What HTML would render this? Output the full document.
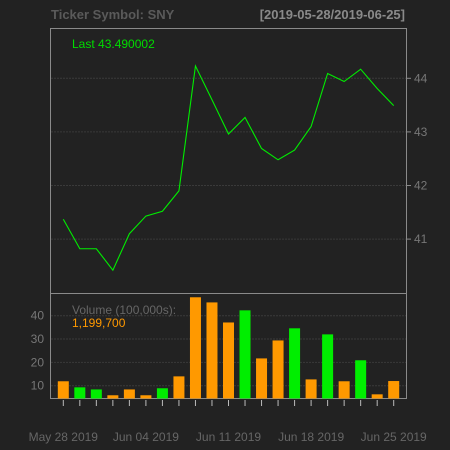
<!DOCTYPE html>
<html><head><meta charset="utf-8"><style>
html,body{margin:0;padding:0;background:#222222;}
svg{display:block;font-family:"Liberation Sans",sans-serif;}
</style></head><body>
<svg id="c" width="450" height="450" viewBox="0 0 450 450">
<rect x="0" y="0" width="450" height="450" fill="#222222"/>
<text x="51" y="19" font-size="13" font-weight="bold" fill="#5a5a5a">Ticker Symbol: SNY</text>
<text x="405" y="19" font-size="13" font-weight="bold" fill="#8a8a8a" text-anchor="end">[2019-05-28/2019-06-25]</text>
<g id="grid"></g>
<rect x="50.5" y="28.5" width="356" height="265" fill="none" stroke="#8a8a8a"/>
<rect x="50.5" y="293.5" width="356" height="105" fill="none" stroke="#8a8a8a"/>
<text x="72" y="48" font-size="12" fill="#00dd00">Last 43.490002</text>
<g id="marks"></g>
<text x="72" y="314" font-size="12" fill="#666">Volume (100,000s):</text>
<text x="72" y="327" font-size="12" fill="#ff9900">1,199,700</text>
</svg>
<script>
const prices=[41.37,40.82,40.82,40.42,41.10,41.43,41.52,41.90,44.23,43.60,42.96,43.27,42.69,42.48,42.66,43.10,44.09,43.94,44.17,43.81,43.49];
const volumes=[11.9,9.3,8.4,5.9,8.4,5.9,8.9,14.0,47.9,45.7,37.1,42.3,21.7,29.4,34.6,12.7,32.0,11.9,20.9,6.3,12.0];
const upDays=[0,1,1,0,0,0,1,0,0,0,0,1,0,0,1,0,1,0,1,0,0];
const priceTicks=[41,42,43,44];
const volTicks=[10,20,30,40];
const dateLabels=["May 28 2019","Jun 04 2019","Jun 11 2019","Jun 18 2019","Jun 25 2019"];
const dateIdx=[0,5,10,15,20];
const NS="http://www.w3.org/2000/svg";
const X=i=>63.3+i*16.52;
const YP=v=>78.3+(44-v)*53.6;
const YV=v=>385.7-(v-10)*2.333;
function mk(t,a,p){const e=document.createElementNS(NS,t);for(const k in a)e.setAttribute(k,a[k]);(p||document.getElementById('marks')).appendChild(e);return e;}
const grid=document.getElementById('grid');
priceTicks.forEach(t=>{
 const l=mk('line',{x1:51,x2:406,y1:YP(t),y2:YP(t),stroke:'#3a3a3a','stroke-dasharray':'2,1'},grid);
 
 
 const tk=mk('line',{x1:406,x2:411,y1:YP(t),y2:YP(t),stroke:'#8a8a8a'},grid);
 
 
 const tx=mk('text',{x:414,y:YP(t)+4,'font-size':12,fill:'#777'},grid);tx.textContent=t;
 
 
});
volTicks.forEach(t=>{
 const l=mk('line',{x1:51,x2:406,y1:YV(t),y2:YV(t),stroke:'#3a3a3a','stroke-dasharray':'2,1'},grid);
 
 
 const tx=mk('text',{x:44,y:YV(t)+4,'font-size':12,fill:'#777','text-anchor':'end'},grid);tx.textContent=t;
 
 
});
volumes.forEach((v,i)=>{
 const r=mk('rect',{x:X(i)-5.5,y:YV(v),width:11,height:Math.max(0,398.5-YV(v)),fill:upDays[i]?'#00ee00':'#ff9900'});
 
 
 const tk=mk('line',{x1:X(i),x2:X(i),y1:400,y2:406,stroke:'#bbb'});
 
 
});
const pl=mk('polyline',{points:prices.map((p,i)=>X(i)+','+YP(p)).join(' '),fill:'none',stroke:'#00ee00','stroke-width':1.1});


dateLabels.forEach((d,k)=>{
 const tx=mk('text',{x:X(dateIdx[k]),y:441,'font-size':12,fill:'#666','text-anchor':'middle'});tx.textContent=d;
 
 
});
</script>
</body></html>
